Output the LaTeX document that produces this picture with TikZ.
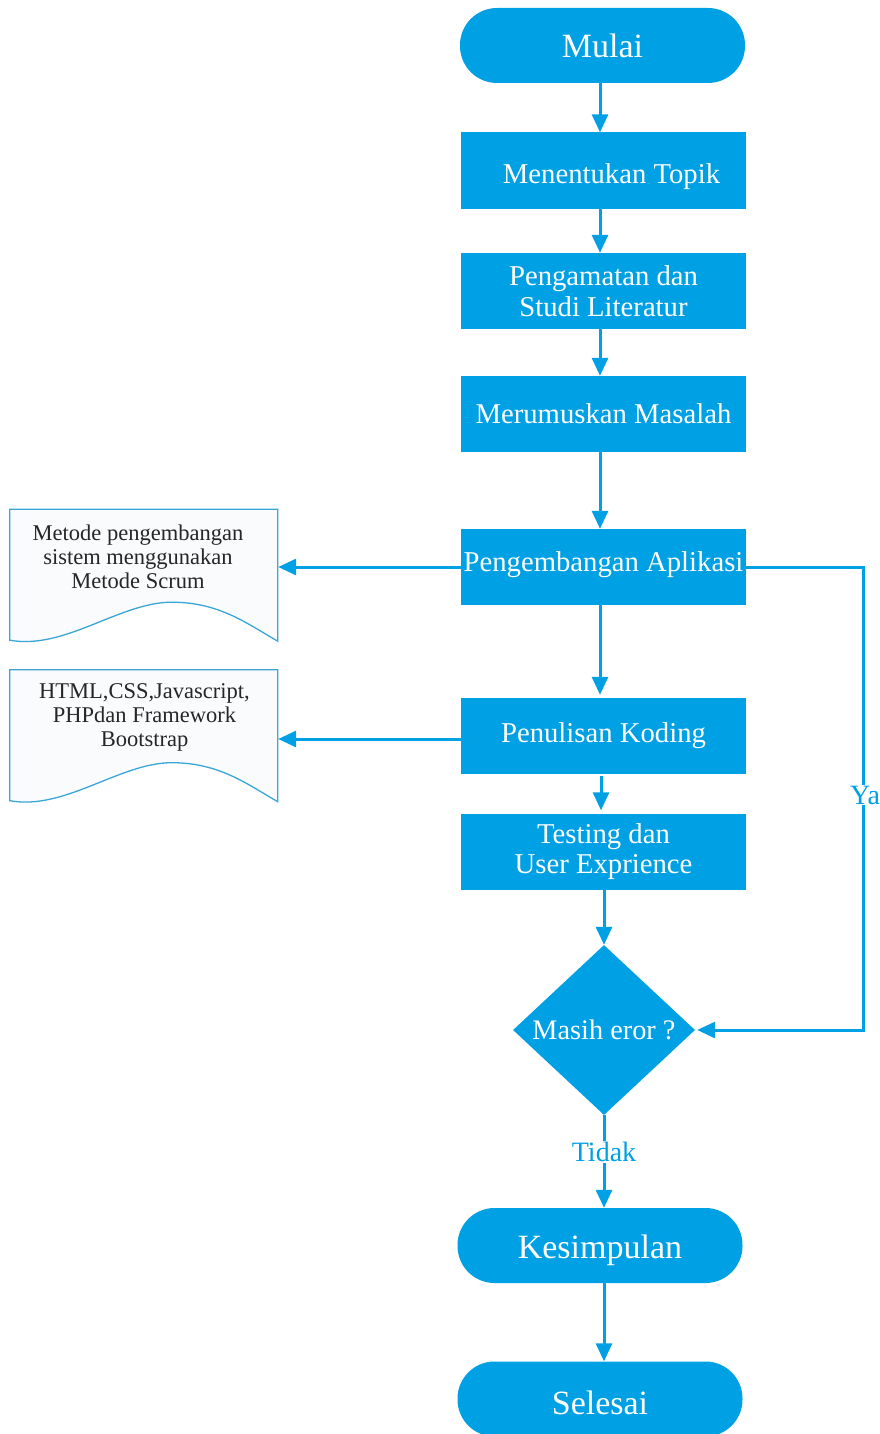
\documentclass[tikz,border=0pt]{standalone}
\usepackage{fontspec}
\setmainfont{Liberation Serif}
\usepackage{tikz}
\usetikzlibrary{arrows.meta}
\usetikzlibrary{shapes.geometric}

\definecolor{biru}{RGB}{0,160,228}
\definecolor{garisdok}{RGB}{58,166,216}
\definecolor{isidok}{RGB}{250,251,252}

\newcommand{\geser}[2]{\raisebox{#1}[\height][\depth]{#2}}

\tikzset{
  proses/.style={rectangle,fill=biru,text=white,minimum width=285pt,minimum height=76pt,inner sep=0pt,align=center,font=\fontsize{28.7}{30.5}\selectfont},
  terminal/.style={rectangle,rounded corners=37pt,fill=biru,text=white,minimum width=285pt,minimum height=75pt,inner sep=0pt,font=\fontsize{34}{36}\selectfont},
  keputusan/.style={diamond,fill=biru,text=white,minimum width=182pt,minimum height=170pt,inner sep=0pt,font=\fontsize{28.3}{30}\selectfont},
  dokumen/.style={rectangle,minimum width=268pt,minimum height=133pt,inner sep=0pt},
  teksdok/.style={align=center,text=black!85,font=\fontsize{22.5}{24}\selectfont},
  panah/.style={draw=biru,line width=3pt,-{Triangle[length=18pt,width=16pt]}},
  labelpanah/.style={fill=white,text=biru,inner sep=1pt,font=\fontsize{28}{30}\selectfont}
}

\begin{document}
\begin{tikzpicture}[x=1pt,y=-1pt]
  \useasboundingbox (0,0) rectangle (879,1434);
  %alur utama
  \node[terminal] (mulai) at (602.5,45.5) {Mulai};
  \node[proses] (topik) at (603.5,170.5) {\geser{-6pt}{\hspace{16pt}Menentukan Topik}};
  \node[proses] (amat) at (603.5,291) {Pengamatan dan\\Studi Literatur};
  \node[proses] (rumus) at (603.5,414) {Merumuskan Masalah};
  \node[proses] (kembang) at (603.5,567) {\geser{2pt}{Pengembangan Aplikasi}};
  \node[proses] (koding) at (603.5,736) {Penulisan Koding};
  \node[proses] (testing) at (603.5,851.5) {Testing dan\\User Exprience};
  \node[keputusan] (putus) at (604,1030) {Masih eror ?};
  \node[terminal] (simpul) at (600,1245.5) {\geser{-5pt}{Kesimpulan}};
  \node[terminal] (selesai) at (600,1399) {\geser{-4pt}{Selesai}};

  %dokumen kiri
  \node[dokumen] (dok1) at (144,575.5) {};
  \node[dokumen] (dok2) at (144,736) {};
  \foreach \d in {dok1,dok2}{
    \begin{scope}[shift={(\d.south west)}]
      \draw[garisdok,fill=isidok,line width=1.3pt] (0,-2) -- (0,-133) -- (268,-133) -- (268,-1)
        .. controls (238,-18) and (210,-40) .. (162,-40)
        .. controls (110,-40) and (55,8) .. (0,-2) -- cycle;
    \end{scope}
  }
  \node[teksdok] (dok1teks) at (138,557) {Metode pengembangan\\sistem menggunakan\\Metode Scrum};
  \node[teksdok] (dok2teks) at (144.5,717) {HTML,CSS,Javascript,\\PHPdan Framework\\Bootstrap};

  %panah
  \draw[panah] (mulai.south -| 600,0) -- (topik.north -| 600,0);
  \draw[panah] (topik.south -| 600,0) -- (amat.north -| 600,0);
  \draw[panah] (amat.south -| 600,0) -- (rumus.north -| 600,0);
  \draw[panah] (rumus.south -| 600,0) -- (kembang.north -| 600,0);
  \draw[panah] (kembang.south -| 600,0) -- ([yshift=3pt]koding.north -| 600,0);
  \draw[panah] ([yshift=-2pt]koding.south -| 601,0) -- ([yshift=3pt]testing.north -| 601,0);
  \draw[panah] (testing.south -| putus.north) -- (putus.north);
  \draw[panah] (putus.south) -- node[labelpanah,pos=0.4] (tidak) {Tidak} (putus.south |- simpul.north);
  \draw[panah] (simpul.south -| putus.south) -- (putus.south |- selesai.north);
  \draw[panah] (kembang.west) -- (kembang.west -| dok1.east);
  \draw[panah] ([yshift=-3pt]koding.west) -- ([yshift=-3pt]koding.west -| dok2.east);
  \draw[panah] (kembang.east) -- ++(117,0) |- ([xshift=2pt]putus.east);
  \node[labelpanah] (ya) at (865,795) {Ya};
\end{tikzpicture}
\end{document}
